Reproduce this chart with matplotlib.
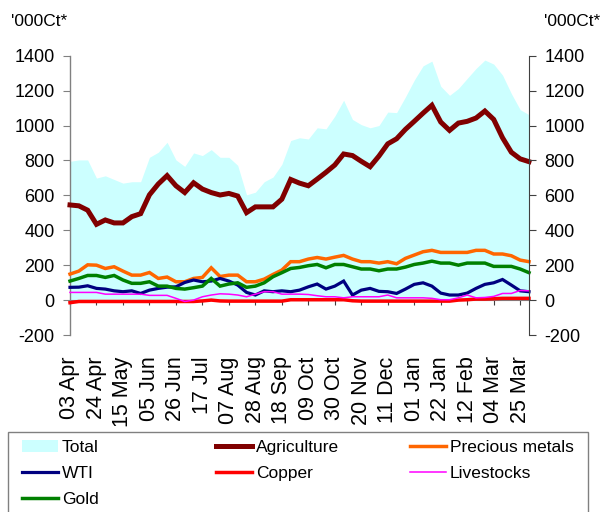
import matplotlib
matplotlib.use("Agg")
import matplotlib.pyplot as plt
from matplotlib.patches import Rectangle, Patch
from matplotlib.lines import Line2D
import numpy as np

plt.rcParams['font.family'] = ['Liberation Sans', 'DejaVu Sans']

# Weekly positions, '000 contracts; one label every third week
tick_labels = ["03 Apr", "24 Apr", "15 May", "05 Jun", "26 Jun", "17 Jul",
               "07 Aug", "28 Aug", "18 Sep", "09 Oct", "30 Oct", "20 Nov",
               "11 Dec", "01 Jan", "22 Jan", "12 Feb", "04 Mar", "25 Mar"]

total = [795, 803, 803, 699, 712, 691, 670, 678, 678, 818, 847, 904, 803, 766,
         843, 828, 862, 818, 818, 772, 603, 618, 678, 705, 778, 914, 930, 923,
         987, 981, 1054, 1145, 1035, 1005, 987, 1000, 1077, 1074, 1164, 1260,
         1342, 1369, 1225, 1173, 1212, 1270, 1327, 1375, 1352, 1289, 1183, 1091,
         1062]

agriculture = [545, 540, 515, 434, 459, 442, 442, 478, 495, 603, 665, 713, 655,
               616, 672, 636, 616, 602, 611, 596, 501, 534, 534, 534, 578, 691,
               670, 655, 693, 732, 774, 837, 828, 795, 764, 825, 895, 924, 978,
               1024, 1071, 1116, 1020, 972, 1014, 1024, 1043, 1083, 1035, 930,
               847, 809, 793]

precious_metals = [149, 166, 202, 200, 181, 191, 166, 143, 143, 158, 124, 132,
                   105, 105, 124, 130, 185, 135, 143, 143, 105, 105, 120, 147,
                   172, 220, 220, 235, 244, 235, 246, 256, 235, 220, 220, 212,
                   220, 208, 239, 258, 277, 285, 273, 273, 273, 273, 285, 285,
                   264, 264, 254, 229, 220]

wti = [73, 74, 82, 67, 63, 53, 48, 53, 38, 57, 67, 74, 76, 101, 115, 105, 109,
       124, 109, 86, 44, 29, 53, 48, 53, 48, 57, 76, 92, 63, 80, 109, 29, 57, 67,
       50, 48, 38, 63, 90, 99, 80, 40, 29, 29, 40, 67, 90, 99, 118, 86, 53, 48]

copper = [-15, -8, -8, -8, -8, -8, -8, -8, -8, -8, -8, -8, -8, -8, -8, -5, 0,
          -5, -6, -6, -6, -6, -6, -6, -6, 2, 2, 2, 2, 2, 2, 2, -4, -6, -6, -6,
          -6, -6, -6, -6, -6, -6, -6, -6, 0, 2, 6, 6, 8, 10, 10, 10, 10]

livestocks = [44, 44, 44, 44, 34, 34, 34, 34, 34, 27, 27, 27, 10, -8, 0, 19, 29,
              36, 34, 29, 19, 34, 48, 48, 34, 34, 34, 32, 25, 19, 19, 13, 19, 19,
              19, 19, 29, 13, 13, 13, 13, 10, 2, 2, 13, 29, 13, 15, 21, 38, 38,
              55, 53]

gold = [109, 124, 141, 141, 130, 141, 115, 96, 96, 105, 80, 80, 67, 63, 71, 80,
        124, 80, 92, 99, 73, 80, 99, 134, 157, 181, 187, 197, 204, 185, 204, 204,
        191, 178, 178, 168, 178, 178, 189, 204, 212, 223, 212, 212, 200, 212, 212,
        212, 193, 193, 193, 178, 157]

W, H = 600, 512
fig = plt.figure(figsize=(W / 100, H / 100), dpi=100)
ax = fig.add_axes([70 / W, 1 - 335 / H, 459 / W, 279.3 / H])

n = len(total)
x = np.arange(n)

ax.fill_between(x, 0, total, color='#CCFFFF', lw=0, zorder=1)

lines = [
    ("Agriculture", agriculture, '#800000', 3.6),
    ("Precious metals", precious_metals, '#FF6600', 2.5),
    ("WTI", wti, '#000080', 2.3),
    ("Copper", copper, '#FF0000', 2.5),
    ("Livestocks", livestocks, '#FF00FF', 1.1),
    ("Gold", gold, '#008000', 2.5),
]
for k, (name, vals, col, lw) in enumerate(lines):
    ax.plot(x, vals, color=col, lw=lw, solid_joinstyle='miter', zorder=3 + k,
            clip_on=False)

ax.set_xlim(0, n - 1)
ax.set_ylim(-200, 1400)
yt = list(range(-200, 1401, 200))
ax.set_yticks(yt)
ax.set_yticklabels([str(v) for v in yt])

for s in ('top', 'right'):
    ax.spines[s].set_visible(False)
ax.spines['bottom'].set_position(('data', 0))
ax.spines['bottom'].set_color('#808080')
ax.spines['left'].set_color('#808080')
ax.spines['left'].set_linewidth(1.0)

ax.set_xticks(x[::3])
ax.set_xticklabels(tick_labels, rotation=90, fontsize=15.5)
ax.tick_params(axis='x', direction='out', length=3.5, color='#404040',
               pad=37)
ax.tick_params(axis='y', direction='out', length=5, color='#808080',
               labelsize=13, pad=6)

ax2 = ax.twinx()
ax2.set_ylim(-200, 1400)
ax2.set_yticks(yt)
ax2.set_yticklabels([str(v) for v in yt])
for s in ('top', 'left', 'bottom'):
    ax2.spines[s].set_visible(False)
ax2.spines['right'].set_color('#404040')
ax2.tick_params(axis='y', direction='out', length=5, color='#404040',
                labelsize=13, pad=6)

fig.text(39 / W, 1 - 21 / H, "'000Ct*", ha='center', va='center', fontsize=12.5)
fig.text(572 / W, 1 - 21 / H, "'000Ct*", ha='center', va='center', fontsize=12.5)

# Legend: three columns inside a common frame
style = {k: (c, lw) for k, _, c, lw in lines}
def line_handle(name):
    c, lw = style[name]
    return Line2D([], [], color=c, lw=lw)

columns = [
    (22, [Patch(facecolor='#CCFFFF', edgecolor='none'), line_handle("WTI"),
          line_handle("Gold")], ["Total", "WTI", "Gold"]),
    (216, [line_handle("Agriculture"), line_handle("Copper")],
     ["Agriculture", "Copper"]),
    (410, [line_handle("Precious metals"), line_handle("Livestocks")],
     ["Precious metals", "Livestocks"]),
]
for x0, handles, labels in columns:
    fig.legend(handles, labels, loc='upper left',
               bbox_to_anchor=(x0 / W, 1 - 440 / H), frameon=False,
               fontsize=12.5, handlelength=2.07, handleheight=0.7,
               handletextpad=0.23, labelspacing=0.62, borderpad=0,
               borderaxespad=0)

fig.add_artist(Rectangle((8 / W, 1 - 525 / H), 580 / W, 93 / H,
                         transform=fig.transFigure, facecolor='none',
                         edgecolor='#808080', lw=1.0))

fig.savefig("out.png", dpi=100)
